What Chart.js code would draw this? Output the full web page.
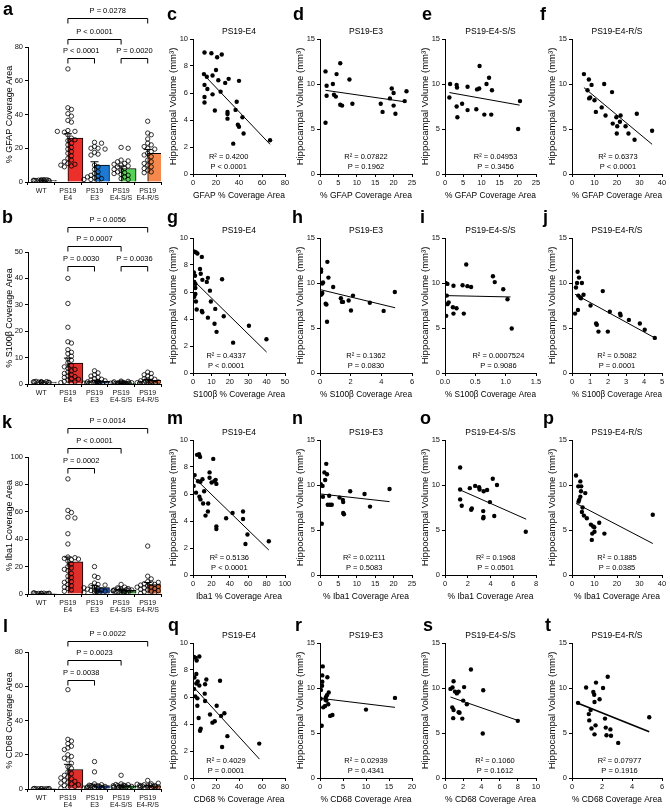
<!DOCTYPE html>
<html>
<head>
<meta charset="utf-8">
<script src="https://cdn.jsdelivr.net/npm/chart.js@4.4.0/dist/chart.umd.min.js"></script>
<style>
  body { margin: 0; background: #fff; width: 670px; height: 810px; position: relative; overflow: hidden;
         font-family: "Liberation Sans", Arial, sans-serif; }
  .lbl { position: absolute; font-weight: bold; font-size: 18px; line-height: 18px; color: #000; }
</style>
</head>
<body>
<script>
// ---------- bar panels: group values ----------
const groupNames = ["WT", ["PS19", "E4"], ["PS19", "E3"], ["PS19", "E4-S/S"], ["PS19", "E4-R/S"]];

const aMeans = [1.0, 26, 10, 8, 17];
const aSem = [0.1, 2.6, 2.0, 1.5, 2.3];
const aWT = [1.2, 1.0, 0.9, 1.1, 0.8, 1.3, 0.7, 1.0, 0.9, 1.1, 0.6, 1.4];
const aE4 = [67, 44, 43, 40.5, 39, 36.5, 35.5, 30.5, 30, 29.5, 28, 26, 24.5, 23, 22, 20.5, 19.5, 18, 17, 15.5, 14, 13, 12, 11, 10.5, 10, 9.5, 9, 30, 25];
const aE3 = [23.5, 23, 21, 20, 20, 19.5, 17.5, 16.5, 16, 10, 9, 7.5, 6, 5, 4, 3.5, 3, 2.5, 2, 1.5, 1.5, 1];
const aSS = [20.5, 20, 13, 12.5, 12, 11, 10.5, 10, 9.5, 9, 8, 7.5, 7, 6, 5.5, 5, 4.5, 4, 3, 2, 1.5];
const aRS = [36, 29, 28, 25.5, 23, 22, 21, 20, 19.5, 18, 17, 16, 15, 13, 12, 11, 10, 9, 8, 7, 6, 5.5];
const aBrFrom = [1, 1, 1, 3];
const aBrTo = [4, 3, 2, 4];
const aBrLevel = [97, 84.7, 73.5, 73.5];
const aBrText = ["P = 0.0278", "P < 0.0001", "P < 0.0001", "P = 0.0020"];

const bMeans = [0.7, 7.9, 1.0, 0.3, 1.4];
const bSem = [0.05, 1.9, 0.25, 0.07, 0.3];
const bWT = [0.9, 0.6, 0.8, 0.7, 0.5, 0.9, 0.6, 0.8, 1.0, 0.7, 0.6];
const bE4 = [40, 30.5, 21.5, 16, 15.5, 13, 12, 11.5, 10.5, 9.5, 9, 8, 7, 6, 5, 4.5, 4, 3.5, 3, 2.5, 2, 1.5, 1, 0.8, 0.5, 0.3, 6.5, 5.5, 2.8, 1.8];
const bE3 = [5, 4.2, 3.5, 3, 2.5, 2, 1.8, 1.5, 1.2, 1, 0.8, 0.6, 0.5, 0.4, 0.3, 0.2, 0.1, 0.7, 0.9, 0.4, 0.2, 0.3];
const bSS = [1.1, 1, 0.8, 0.7, 0.6, 0.5, 0.4, 0.3, 0.2, 0.1, 0.3, 0.2, 0.15, 0.1, 0.4, 0.25, 0.5, 0.35, 0.2, 0.1];
const bRS = [4.5, 4, 3.5, 3, 2.5, 2, 1.8, 1.5, 1.2, 1, 0.8, 0.6, 0.5, 0.4, 0.3, 0.2, 1.1, 0.9, 0.7, 0.5, 0.3, 0.2];
const bBrFrom = [1, 1, 1, 3];
const bBrTo = [4, 3, 2, 4];
const bBrLevel = [59.5, 52.3, 44.7, 44.7];
const bBrText = ["P = 0.0056", "P = 0.0007", "P = 0.0030", "P = 0.0036"];

const kMeans = [0.45, 23.5, 4.6, 2.7, 6.8];
const kSem = [0.06, 3.5, 1.5, 0.5, 1.6];
const kWT = [0.5, 0.3, 0.8, 0.4, 0.6, 0.2, 0.5, 0.7, 0.3, 0.4];
const kE4 = [84, 61, 59.5, 56, 55.5, 44, 36.5, 27, 26.5, 26, 25, 24, 22, 20, 19, 17, 15, 13, 12, 10, 9, 7, 6, 4, 3, 2, 25.5, 18, 8.5, 5];
const kE3 = [20, 13, 12, 8, 7, 6, 5, 4, 3.5, 3, 2.5, 2, 1.5, 1, 0.5, 6.5, 4.5, 3, 2, 1];
const kSS = [7, 5, 4.5, 4, 3.5, 3, 3, 2.5, 2, 2, 1.5, 1, 3.2, 2.8, 2.2, 1.8, 3.8, 2.6, 1.2, 0.8];
const kRS = [35, 13, 11, 9, 8, 7.5, 7, 6, 5, 4.5, 4, 3, 2, 1.5, 1, 0.5, 6.5, 5.5, 3.5, 2.5, 8.5, 5];
const kBrFrom = [1, 1, 1];
const kBrTo = [4, 3, 2];
const kBrLevel = [121, 106.6, 92];
const kBrText = ["P = 0.0014", "P < 0.0001", "P = 0.0002"];

const lMeans = [0.15, 11.4, 2.0, 1.8, 1.8];
const lSem = [0.03, 3.0, 0.8, 0.4, 0.3];
const lWT = [0.2, 0.1, 0.3, 0.15, 0.1, 0.2, 0.25, 0.1, 0.2, 0.15];
const lE4 = [58, 29, 28, 26.5, 25, 24, 23, 20, 19, 18, 17, 15, 13, 12, 10, 9, 8, 7, 6, 5, 4, 3, 2, 1.5, 1, 0.5, 3.5, 2.5, 6.5, 4.5];
const lE3 = [16, 10, 3, 2.5, 2, 1.8, 1.5, 1.2, 1, 0.8, 0.5, 0.3, 1.4, 0.9, 0.6, 2.2, 1.1, 0.7];
const lSS = [8, 3, 2.5, 2, 1.8, 1.5, 1.2, 1, 0.8, 0.5, 1.6, 2.2, 1.3, 0.9, 1.9, 2.6, 1.1, 0.7];
const lRS = [5, 3, 2.5, 2, 1.8, 1.5, 1.2, 1, 0.8, 0.5, 2.8, 2.2, 1.6, 1.4, 2.1, 1.7, 3.4, 0.9];
const lBrFrom = [1, 1, 1];
const lBrTo = [4, 3, 2];
const lBrLevel = [86.7, 75.3, 63.6];
const lBrText = ["P = 0.0022", "P = 0.0023", "P = 0.0038"];

// ---------- correlation panels: marker (x, y) pairs and fit line ends ----------
const cX = [10, 16, 25, 21, 20, 9.5, 12, 17, 22, 31, 40, 28, 10, 12.5, 24, 17, 10, 10, 38, 19, 37, 30, 30, 30, 43, 39, 40, 44, 35, 67];
const cY = [9.0, 8.95, 8.85, 8.65, 7.7, 7.4, 7.2, 7.3, 6.95, 7.05, 6.9, 6.75, 6.6, 6.3, 6.1, 5.9, 5.7, 5.3, 5.35, 4.7, 4.75, 4.6, 4.45, 4.1, 4.2, 3.65, 3.5, 3.0, 2.25, 2.5];
const cLineX = [10, 67], cLineY = [7.3, 2.2];

const dX = [1.5, 5.5, 4.5, 3.5, 1.8, 8, 1.8, 3.8, 4.3, 5.5, 6, 8.8, 1.5, 19.5, 20, 19, 16.5, 17, 20, 20.5, 23.5, 23];
const dY = [11.4, 12.3, 11.1, 10.0, 9.8, 10.5, 8.7, 8.8, 8.6, 7.7, 7.6, 7.8, 5.7, 9.5, 9.0, 8.4, 7.8, 6.9, 7.6, 6.7, 9.2, 8.1];
const dLineX = [1.5, 23.5], dLineY = [9.3, 8.0];

const eX = [1.4, 1.2, 3.2, 3.3, 3.2, 3.4, 4.7, 6.2, 6.2, 8.6, 8.8, 9.4, 9.5, 10.8, 11.4, 12.1, 12.9, 12.7, 20.1, 20.6];
const eY = [10.0, 8.5, 9.9, 9.6, 7.5, 6.3, 7.8, 9.7, 7.1, 7.2, 9.4, 9.5, 12.0, 6.6, 10.0, 10.7, 9.3, 6.6, 5.0, 8.1];
const eLineX = [1.2, 20.5], eLineY = [9.05, 7.65];

const fX = [5.3, 7.5, 6.9, 8.7, 8.1, 7.6, 10.0, 10.6, 14.3, 13.2, 14.9, 17.8, 18.1, 19.7, 20.1, 19.9, 21.6, 21.3, 23.8, 25.1, 27.8, 28.8, 35.6];
const fY = [11.1, 10.5, 9.3, 9.9, 8.5, 8.4, 8.2, 6.9, 10.0, 7.4, 6.5, 9.1, 5.6, 6.3, 5.3, 4.5, 6.5, 5.8, 5.3, 4.5, 3.8, 6.7, 4.8];
const fLineX = [5.3, 35.6], fLineY = [9.6, 3.3];

const gX = [0.5, 1.5, 2.4, 4.8, 3.8, 0.5, 1.1, 4.2, 8.1, 7.5, 5.1, 15.8, 0.7, 1.3, 1.3, 9.2, 1.3, 0.7, 1.6, 9.7, 2.0, 4.8, 5.1, 12.1, 16.7, 8.1, 11.7, 12.8, 21.8, 30.4, 39.9];
const gY = [9.0, 8.95, 8.85, 8.6, 7.7, 7.45, 7.2, 7.35, 7.05, 6.75, 6.9, 6.95, 6.75, 6.6, 6.3, 6.1, 5.85, 5.65, 5.3, 5.3, 4.7, 4.6, 4.5, 4.75, 4.2, 4.1, 3.65, 3.05, 2.25, 3.5, 2.5];
const gLineX = [0.3, 40], gLineY = [6.85, 1.55];

const hX = [0.07, 0.07, 0.15, 0.04, 0.15, 0.48, 0.55, 0.37, 0.42, 0.46, 0.86, 0.2, 0.1, 1.36, 1.43, 1.5, 1.87, 2.02, 2.15, 3.25, 4.15, 4.88];
const hY = [11.5, 11.25, 9.95, 8.7, 8.9, 12.35, 10.6, 7.7, 7.6, 5.7, 9.55, 10.05, 8.75, 8.3, 7.9, 7.9, 8.05, 6.95, 8.6, 7.8, 6.9, 9.0];
const hLineX = [0.05, 4.9], hLineY = [9.25, 7.25];

const iX = [0.01, 0.04, 0.03, 0.04, 0.06, 0.02, 0.13, 0.14, 0.14, 0.19, 0.29, 0.31, 0.35, 0.37, 0.43, 0.79, 0.82, 0.96, 1.03, 1.1];
const iY = [10.0, 9.9, 8.6, 7.65, 7.85, 6.35, 7.3, 9.7, 6.6, 7.2, 9.75, 6.6, 12.05, 9.65, 9.55, 10.75, 10.1, 9.3, 8.2, 4.95];
const iLineX = [0.01, 1.08], iLineY = [8.6, 8.45];

const jX = [0.17, 0.22, 0.28, 0.31, 0.39, 0.35, 0.33, 0.46, 0.55, 0.64, 0.5, 1.03, 1.34, 1.38, 1.47, 1.71, 1.99, 2.1, 2.67, 2.7, 3.16, 3.77, 4.04, 4.6];
const jY = [6.6, 9.5, 10.0, 11.25, 10.6, 8.6, 7.0, 8.4, 10.0, 8.7, 8.3, 7.5, 5.5, 5.35, 4.6, 9.1, 4.6, 6.8, 6.6, 6.4, 5.9, 5.5, 4.8, 3.9];
const jLineX = [0.17, 4.6], jLineY = [8.75, 3.9];

const mX = [0.7, 1.8, 3.3, 4.4, 6.6, 7.7, 5.5, 8.1, 7, 8.1, 10.3, 12.1, 11, 13.6, 16.5, 16.2, 18, 18, 22, 20.2, 23.2, 24.6, 25.4, 25.4, 25.4, 36, 43, 54.4, 54.4, 57, 59.2, 82.4];
const mY = [6.6, 7.4, 6.1, 8.9, 8.95, 8.75, 6.95, 6.9, 5.8, 5.6, 7.1, 6.2, 5.3, 4.4, 5.3, 4.7, 7.6, 7.2, 8.6, 6.85, 6.95, 7.05, 6.75, 3.6, 3.4, 4.2, 4.6, 4.7, 4.15, 2.3, 3.0, 2.5];
const mLineX = [0.7, 82.4], mLineY = [7.25, 1.85];

const nX = [0.2, 0.7, 0.5, 0.8, 1.2, 1.4, 1.7, 1.9, 2.1, 2.5, 2.7, 3.2, 5.3, 6.2, 6.3, 6.3, 6.5, 8.2, 12.1, 13.6, 18.9];
const nY = [10.1, 9.9, 5.7, 8.7, 11.4, 10.55, 12.35, 11.2, 7.8, 8.8, 7.8, 7.8, 8.6, 8.35, 8.1, 6.9, 6.75, 9.3, 9.0, 7.6, 9.55];
const nLineX = [0.2, 18.9], nLineY = [9.0, 8.15];

const oX = [1.33, 1.33, 1.33, 1.47, 2.18, 2.36, 2.3, 2.65, 3.0, 3.04, 3.36, 3.39, 3.36, 3.4, 3.7, 3.95, 4.2, 4.33, 4.57, 7.1];
const oY = [11.95, 9.5, 8.4, 7.7, 9.65, 7.4, 7.25, 9.9, 9.75, 9.5, 7.1, 6.45, 6.3, 9.3, 9.45, 8.1, 10.7, 6.55, 10.0, 4.8];
const oLineX = [1.33, 7.14], oLineY = [9.45, 6.2];

const pX = [1.8, 2.8, 3.7, 4.1, 4.0, 3.7, 3.2, 2.9, 4.7, 4.4, 5.3, 5.9, 6.6, 8.4, 9.4, 9.9, 9.0, 10, 8.8, 12.1, 14.4, 35.9];
const pY = [11.05, 9.85, 10.4, 9.85, 9.3, 8.7, 8.35, 8.15, 7.5, 7.0, 6.6, 9.1, 6.3, 5.6, 5.4, 5.3, 4.6, 4.8, 3.9, 5.8, 4.6, 6.7];
const pLineX = [1.8, 35.9], pLineY = [7.95, 3.5];

const qX = [0.9, 2.3, 3.2, 5.5, 2.9, 1.2, 4.1, 2.9, 5.5, 0.9, 2.0, 3.8, 3.8, 4.9, 6.1, 6.7, 10.5, 10.2, 10.5, 11.6, 14.8, 16.9, 18.9, 20.6, 23.5, 24.4, 25.3, 27.3, 29.9, 57.6];
const qY = [8.97, 8.9, 8.7, 9.0, 7.7, 7.45, 7.15, 7.0, 6.85, 6.6, 6.05, 5.9, 5.35, 4.45, 3.5, 3.65, 5.7, 6.25, 6.95, 7.3, 4.7, 4.1, 4.2, 5.35, 7.2, 4.6, 2.3, 4.8, 3.1, 2.55];
const qLineX = [0.9, 57.8], qLineY = [6.7, 1.4];

const rX = [0.2, 0.15, 0.45, 0.37, 0.5, 0.5, 0.6, 0.7, 1.1, 1.2, 1.26, 1.4, 1.5, 1.6, 1.8, 1.9, 2.2, 2.7, 10, 16.3];
const rY = [9.77, 8.8, 10.25, 5.8, 11.4, 10.7, 12.4, 7.85, 8.0, 8.7, 8.95, 8.6, 9.2, 11.2, 8.2, 9.5, 6.9, 7.0, 7.6, 8.9];
const rLineX = [0.15, 16.3], rLineY = [8.85, 7.85];

const sX = [0.6, 0.83, 0.94, 0.8, 0.94, 0.9, 1.1, 1.3, 1.5, 1.5, 1.6, 2.0, 1.9, 2.1, 2.4, 2.85, 4.2, 4.15, 8.0];
const sY = [9.9, 10.05, 10.75, 7.85, 7.55, 6.65, 9.6, 9.4, 9.6, 7.3, 7.25, 8.6, 6.6, 10.1, 8.2, 12.05, 9.75, 4.95, 6.35];
const sLineX = [0.6, 8.0], sLineY = [9.0, 6.4];

const tX = [0.4, 0.94, 1.12, 1.15, 1.24, 1.3, 1.42, 1.48, 1.5, 1.5, 1.57, 1.6, 1.84, 2.07, 2.2, 2.25, 2.3, 2.38, 2.56, 2.6, 3.08, 5.15];
const tY = [8.35, 10.05, 7.1, 6.4, 7.55, 5.5, 9.55, 9.25, 4.85, 8.45, 5.85, 10.6, 8.75, 10.0, 6.6, 5.6, 4.75, 11.25, 5.4, 4.7, 3.9, 6.75];
const tLineX = [0.4, 5.15], tLineY = [8.3, 5.15];

// ---------- drawing ----------
const FONT = '"Liberation Sans", Arial, sans-serif';
Chart.defaults.font.family = FONT;
Chart.defaults.color = '#000';

function addCanvas(left, top, w, h) {
    const c = document.createElement("canvas");
    c.width = w;
    c.height = h;
    c.style.cssText = `position:absolute;left:${left}px;top:${top}px;width:${w}px;height:${h}px`;
    document.body.appendChild(c);
    return c;
}

function addLetter(ch, left, baseline) {
    const d = document.createElement("div");
    d.className = "lbl";
    d.textContent = ch;
    d.style.left = left + "px";
    d.style.top = (baseline - 15) + "px";
    document.body.appendChild(d);
}

// spreads the open circles sideways so they do not sit on each other (column scatter)
function swarm(vals, pxPerUnit, catPx) {
    const diam = 4.4, maxSteps = 3;
    const placed = [];
    return vals.map((v, n) => {
        const py = v * pxPerUnit;
        let dx = null;
        for (let k = 0; k <= maxSteps * 2; k++) {
            const step = k === 0 ? 0 : (k % 2 ? 1 : -1) * Math.ceil(k / 2);
            const cand = step * diam * 0.8;
            if (placed.every(p => (p.x - cand) ** 2 + (p.y - py) ** 2 >= diam * diam * 0.7)) {
                dx = cand;
                break;
            }
        }
        if (dx === null) dx = ((n % 7) - 3) * diam * 0.6;
        placed.push({ x: dx, y: py });
        return dx / catPx;
    });
}

function tickFont(size) {
    return { size: size, family: FONT };
}

function barPanel(p) {
    const YW = 28, PR = 7, XH = 22, W = 168;
    const PT = p.plotTop - p.canvasTop;
    const cv = addCanvas(0, p.canvasTop, W, PT + p.plotH + XH);
    const catPx = (W - YW - PR) / 5;
    const pxu = p.plotH / p.yMax;
    const dots = [];
    p.groups.forEach((g, i) => {
        const offs = swarm(g, pxu, catPx);
        g.forEach((v, j) => dots.push({ x: i + offs[j], y: v }));
    });

    const extras = {
        id: "extras",
        afterDatasetsDraw(chart) {
            const { ctx, scales: { x, y } } = chart;
            ctx.save();
            ctx.strokeStyle = "#000";
            ctx.lineWidth = 1;
            // error bars (mean +/- SEM)
            p.means.forEach((m, i) => {
                const cx = x.getPixelForValue(i);
                const y1 = y.getPixelForValue(m + p.sem[i]);
                const y0 = y.getPixelForValue(Math.max(0, m - p.sem[i]));
                ctx.beginPath();
                ctx.moveTo(cx, y0); ctx.lineTo(cx, y1);
                ctx.moveTo(cx - 4, y1); ctx.lineTo(cx + 4, y1);
                ctx.stroke();
            });
            // significance brackets
            ctx.fillStyle = "#000";
            ctx.font = "7.5px " + FONT;
            ctx.textAlign = "center";
            ctx.textBaseline = "middle";
            p.brFrom.forEach((f, k) => {
                const x0 = x.getPixelForValue(f);
                const x1 = x.getPixelForValue(p.brTo[k]);
                const yy = Math.round(y.getPixelForValue(p.brLevel[k])) + 0.5;
                ctx.beginPath();
                ctx.moveTo(x0, yy + 5); ctx.lineTo(x0, yy); ctx.lineTo(x1, yy); ctx.lineTo(x1, yy + 5);
                ctx.stroke();
                ctx.fillText(p.brText[k], (x0 + x1) / 2, yy - 8);
            });
            ctx.restore();
        }
    };

    new Chart(cv, {
        type: "bar",
        data: {
            labels: groupNames,
            datasets: [
                {
                    type: "scatter", data: dots, xAxisID: "x2",
                    pointRadius: 2.2, pointBorderWidth: 0.8,
                    pointBorderColor: "#000", pointBackgroundColor: "rgba(0,0,0,0)"
                },
                {
                    data: p.means, backgroundColor: p.colors, borderColor: "#000",
                    borderWidth: 1, barThickness: 15
                }
            ]
        },
        options: {
            responsive: false, animation: false, events: [],
            layout: { padding: { left: 0, top: PT, right: PR, bottom: 0 } },
            plugins: { legend: { display: false }, tooltip: { enabled: false } },
            scales: {
                x: {
                    afterFit: s => { s.height = XH; },
                    grid: { display: true, drawOnChartArea: false, tickLength: 3, color: "#000" },
                    border: { color: "#000", width: 1 },
                    ticks: { font: { size: 7, family: FONT, lineHeight: 1.05 }, color: "#111", padding: 2, maxRotation: 0, autoSkip: false }
                },
                x2: { type: "linear", min: -0.5, max: 4.5, offset: false, display: false },
                y: {
                    min: 0, max: p.yMax,
                    afterFit: s => { s.width = YW; },
                    grid: { display: true, drawOnChartArea: false, tickLength: 3, color: "#000" },
                    border: { color: "#000", width: 1 },
                    ticks: { stepSize: p.yStep, font: tickFont(7.5), color: "#111", padding: 2 },
                    title: { display: true, text: p.yTitle, font: tickFont(9), color: "#000", padding: { top: 4.6, bottom: 0 } }
                }
            }
        },
        plugins: [extras]
    });
}

const ROW_TOP = [39, 238, 440, 643];
const COL_LEFT = [193, 320, 445, 572];
const COL_W = [92, 92, 91, 90];
const PLOT_H = 135;

function scatterPanel(p) {
    const YW = 34, PT = 22, XH = 29, PR = 10;
    const plotW = COL_W[p.col];
    const cv = addCanvas(COL_LEFT[p.col] - YW, ROW_TOP[p.row] - PT, YW + plotW + PR, PT + PLOT_H + XH);
    const pts = p.x.map((v, i) => ({ x: v, y: p.y[i] }));
    const fit = p.lineX.map((v, i) => ({ x: v, y: p.lineY[i] }));

    const notes = {
        id: "notes",
        afterDraw(chart) {
            const { ctx, chartArea: a, scales: { x } } = chart;
            ctx.save();
            ctx.fillStyle = "#000";
            ctx.textAlign = "center";
            ctx.textBaseline = "middle";
            ctx.font = "8.5px " + FONT;
            ctx.fillText(p.title, (a.left + a.right) / 2, a.top - 7);
            ctx.font = "7.5px " + FONT;
            const tx = x.getPixelForValue(p.textX);
            ctx.fillText(p.r2, tx, a.bottom - 17);
            ctx.fillText(p.pv, tx, a.bottom - 7);
            ctx.restore();
        }
    };

    new Chart(cv, {
        type: "scatter",
        data: {
            datasets: [
                { data: pts, pointRadius: 2.2, pointBackgroundColor: "#000", pointBorderWidth: 0 },
                { type: "line", data: fit, borderColor: "#000", borderWidth: p.lw || 1, pointRadius: 0, fill: false }
            ]
        },
        options: {
            responsive: false, animation: false, events: [],
            layout: { padding: { left: 0, top: PT, right: PR, bottom: 0 } },
            plugins: { legend: { display: false }, tooltip: { enabled: false } },
            scales: {
                x: {
                    type: "linear", min: 0, max: p.xMax,
                    afterFit: s => { s.height = XH; },
                    grid: { display: true, drawOnChartArea: false, tickLength: 3, color: "#000" },
                    border: { color: "#000", width: 1 },
                    ticks: {
                        stepSize: p.xStep, font: tickFont(7.5), color: "#111", padding: 1, maxRotation: 0,
                        callback: v => p.xDec ? v.toFixed(p.xDec) : v
                    },
                    title: { display: true, text: p.xTitle, font: tickFont(8.5), color: "#000", padding: { top: 0, bottom: 2 } }
                },
                y: {
                    min: 0, max: p.yMax,
                    afterFit: s => { s.width = YW; },
                    grid: { display: true, drawOnChartArea: false, tickLength: 3, color: "#000" },
                    border: { color: "#000", width: 1 },
                    ticks: { stepSize: p.yStep, font: tickFont(7.5), color: "#111", padding: 2 },
                    title: { display: true, text: "Hippocampal Volume (mm³)", font: tickFont(9.5), color: "#000", padding: { top: 8.5, bottom: 0 } }
                }
            }
        },
        plugins: [notes]
    });
}

// ---------- panels ----------
barPanel({ canvasTop: 0, plotTop: 47, plotH: 135, yMax: 80, yStep: 20, yTitle: "% GFAP Coverage Area",
    means: aMeans, sem: aSem, groups: [aWT, aE4, aE3, aSS, aRS],
    brFrom: aBrFrom, brTo: aBrTo, brLevel: aBrLevel, brText: aBrText,
    colors: ["#ffffff", "#ec2f2b", "#1c79d4", "#56d356", "#f5884c"] });
barPanel({ canvasTop: 200, plotTop: 252, plotH: 132, yMax: 50, yStep: 10, yTitle: "% S100β Coverage Area",
    means: bMeans, sem: bSem, groups: [bWT, bE4, bE3, bSS, bRS],
    brFrom: bBrFrom, brTo: bBrTo, brLevel: bBrLevel, brText: bBrText,
    colors: ["#ffffff", "#e02e2a", "#1d5fb8", "#3bb54a", "#e0703a"] });
barPanel({ canvasTop: 405, plotTop: 457, plotH: 137, yMax: 100, yStep: 20, yTitle: "% Iba1 Coverage Area",
    means: kMeans, sem: kSem, groups: [kWT, kE4, kE3, kSS, kRS],
    brFrom: kBrFrom, brTo: kBrTo, brLevel: kBrLevel, brText: kBrText,
    colors: ["#ffffff", "#e02e2a", "#1c4c9c", "#3e9a45", "#c4643c"] });
barPanel({ canvasTop: 608, plotTop: 652, plotH: 137, yMax: 80, yStep: 20, yTitle: "% CD68 Coverage Area",
    means: lMeans, sem: lSem, groups: [lWT, lE4, lE3, lSS, lRS],
    brFrom: lBrFrom, brTo: lBrTo, brLevel: lBrLevel, brText: lBrText,
    colors: ["#ffffff", "#e02e2a", "#1c4c9c", "#3e9a45", "#c4643c"] });

scatterPanel({ row: 0, col: 0, x: cX, y: cY, lineX: cLineX, lineY: cLineY, xMax: 80, xStep: 20, yMax: 10, yStep: 2,
    title: "PS19-E4", xTitle: "GFAP % Coverage Area", r2: "R² = 0.4200", pv: "P < 0.0001", textX: 31 });
scatterPanel({ row: 0, col: 1, x: dX, y: dY, lineX: dLineX, lineY: dLineY, xMax: 25, xStep: 5, yMax: 15, yStep: 5,
    title: "PS19-E3", xTitle: "% GFAP Coverage Area", r2: "R² = 0.07822", pv: "P = 0.1962", textX: 12.5 });
scatterPanel({ row: 0, col: 2, x: eX, y: eY, lineX: eLineX, lineY: eLineY, xMax: 25, xStep: 5, yMax: 15, yStep: 5,
    title: "PS19-E4-S/S", xTitle: "% GFAP Coverage Area", r2: "R² = 0.04953", pv: "P = 0.3456", textX: 13.9 });
scatterPanel({ row: 0, col: 3, x: fX, y: fY, lineX: fLineX, lineY: fLineY, xMax: 40, xStep: 10, yMax: 15, yStep: 5,
    title: "PS19-E4-R/S", xTitle: "% GFAP Coverage Area", r2: "R² = 0.6373", pv: "P < 0.0001", textX: 20.4 });

scatterPanel({ row: 1, col: 0, x: gX, y: gY, lineX: gLineX, lineY: gLineY, xMax: 50, xStep: 10, yMax: 10, yStep: 2,
    title: "PS19-E4", xTitle: "S100β % Coverage Area", r2: "R² = 0.4337", pv: "P < 0.0001", textX: 18 });
scatterPanel({ row: 1, col: 1, x: hX, y: hY, lineX: hLineX, lineY: hLineY, xMax: 6, xStep: 2, yMax: 15, yStep: 5,
    title: "PS19-E3", xTitle: "% S100β Coverage Area", r2: "R² = 0.1362", pv: "P = 0.0830", textX: 3.0 });
scatterPanel({ row: 1, col: 2, x: iX, y: iY, lineX: iLineX, lineY: iLineY, xMax: 1.5, xStep: 0.5, xDec: 1, yMax: 15, yStep: 5,
    title: "PS19-E4-S/S", xTitle: "% S100β Coverage Area", r2: "R² = 0.0007524", pv: "P = 0.9086", textX: 0.88 });
scatterPanel({ row: 1, col: 3, x: jX, y: jY, lineX: jLineX, lineY: jLineY, xMax: 5, xStep: 1, yMax: 15, yStep: 5,
    title: "PS19-E4-R/S", xTitle: "% S100β Coverage Area", r2: "R² = 0.5082", pv: "P = 0.0001", textX: 2.5 });

scatterPanel({ row: 2, col: 0, x: mX, y: mY, lineX: mLineX, lineY: mLineY, xMax: 100, xStep: 20, yMax: 10, yStep: 2,
    title: "PS19-E4", xTitle: "Iba1 % Coverage Area", r2: "R² = 0.5136", pv: "P < 0.0001", textX: 39.5 });
scatterPanel({ row: 2, col: 1, x: nX, y: nY, lineX: nLineX, lineY: nLineY, xMax: 25, xStep: 5, yMax: 15, yStep: 5,
    title: "PS19-E3", xTitle: "% Iba1 Coverage Area", r2: "R² = 0.02111", pv: "P = 0.5083", textX: 12 });
scatterPanel({ row: 2, col: 2, x: oX, y: oY, lineX: oLineX, lineY: oLineY, xMax: 8, xStep: 2, yMax: 15, yStep: 5,
    title: "PS19-E4-S/S", xTitle: "% Iba1 Coverage Area", r2: "R² = 0.1968", pv: "P = 0.0501", textX: 4.45 });
scatterPanel({ row: 2, col: 3, x: pX, y: pY, lineX: pLineX, lineY: pLineY, xMax: 40, xStep: 10, yMax: 15, yStep: 5,
    title: "PS19-E4-R/S", xTitle: "% Iba1 Coverage Area", r2: "R² = 0.1885", pv: "P = 0.0385", textX: 20 });

scatterPanel({ row: 3, col: 0, x: qX, y: qY, lineX: qLineX, lineY: qLineY, xMax: 80, xStep: 20, yMax: 10, yStep: 2,
    title: "PS19-E4", xTitle: "CD68 % Coverage Area", r2: "R² = 0.4029", pv: "P = 0.0001", textX: 28.7 });
scatterPanel({ row: 3, col: 1, x: rX, y: rY, lineX: rLineX, lineY: rLineY, xMax: 20, xStep: 5, yMax: 15, yStep: 5,
    title: "PS19-E3", xTitle: "% CD68 Coverage Area", r2: "R² = 0.02939", pv: "P = 0.4341", textX: 10 });
scatterPanel({ row: 3, col: 2, x: sX, y: sY, lineX: sLineX, lineY: sLineY, xMax: 10, xStep: 2, yMax: 15, yStep: 5,
    title: "PS19-E4-S/S", xTitle: "% CD68 Coverage Area", r2: "R² = 0.1060", pv: "P = 0.1612", textX: 5.5 });
scatterPanel({ row: 3, col: 3, x: tX, y: tY, lineX: tLineX, lineY: tLineY, xMax: 6, xStep: 2, yMax: 15, yStep: 5, lw: 1.6,
    title: "PS19-E4-R/S", xTitle: "% CD68 Coverage Area", r2: "R² = 0.07977", pv: "P = 0.1916", textX: 3.17 });

[["a", 3, 15], ["c", 167, 20], ["d", 293, 20], ["e", 422, 20], ["f", 540, 20],
 ["b", 2, 223], ["g", 167, 223], ["h", 292, 223], ["i", 420, 223], ["j", 543, 223],
 ["k", 2, 428], ["m", 167, 424], ["n", 292, 424], ["o", 420, 424], ["p", 543, 424],
 ["l", 3, 632], ["q", 168, 631], ["r", 295, 631], ["s", 423, 631], ["t", 545, 631]]
    .forEach(([ch, x, b]) => addLetter(ch, x, b));
</script>
</body>
</html>
